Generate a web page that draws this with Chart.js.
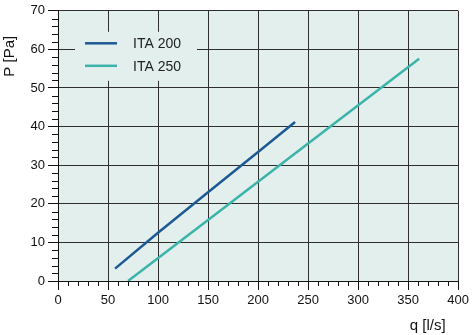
<!DOCTYPE html>
<html>
<head>
<meta charset="utf-8">
<script src="https://cdn.jsdelivr.net/npm/chart.js@4"></script>
<style>
  html, body { margin: 0; padding: 0; background: #fff; }
  #wrap { width: 472px; height: 335px; }
</style>
</head>
<body>
<div id="wrap"><canvas id="pressureChart" width="472" height="335"></canvas></div>
<script>
// values
const seriesNames = ['ITA 200', 'ITA 250'];
const ita200Flow = [57, 100, 150, 200, 237];
const ita200Pressure = [3.2, 12.5, 23.0, 33.4, 41.2];
const ita250Flow = [70, 150, 250, 361];
const ita250Pressure = [0, 15.8, 35.6, 57.6];

const xRange = [0, 400];
const xMajorStep = 50;
const xMinorStep = 10;
const yRange = [0, 70];
const yMajorStep = 10;
const yMinorStep = 2;

const seriesColors = ['#1d5a95', '#3cb4a9'];
const plotBg = '#e2efed';
const gridColor = '#2e2e2e';
const textColor = '#111';

Chart.defaults.font.family = '"Liberation Sans", Arial, Helvetica, sans-serif';
Chart.defaults.color = textColor;

function toPoints(xs, ys) {
    return xs.map((x, i) => ({ x: x, y: ys[i] }));
}

// light fill behind the plot area
const plotBackground = {
    id: 'plotBackground',
    beforeDraw(chart) {
        const { ctx, chartArea: a } = chart;
        ctx.save();
        ctx.fillStyle = plotBg;
        ctx.fillRect(a.left, a.top, a.right - a.left, a.bottom - a.top);
        ctx.restore();
    }
};

// short ticks between the labelled ones
const minorTicks = {
    id: 'minorTicks',
    afterDraw(chart) {
        const { ctx, chartArea: a } = chart;
        const xs = chart.scales.x;
        const ys = chart.scales.y;
        ctx.save();
        ctx.strokeStyle = textColor;
        ctx.lineWidth = 1;
        ctx.beginPath();
        for (let v = xRange[0]; v <= xRange[1]; v += xMinorStep) {
            if (v % xMajorStep === 0) continue;
            const px = Math.round(xs.getPixelForValue(v)) + 0.5;
            ctx.moveTo(px, a.bottom);
            ctx.lineTo(px, a.bottom + 5);
        }
        for (let v = yRange[0]; v <= yRange[1]; v += yMinorStep) {
            if (v % yMajorStep === 0) continue;
            const py = Math.round(ys.getPixelForValue(v)) + 0.5;
            ctx.moveTo(a.left - 6, py);
            ctx.lineTo(a.left, py);
        }
        ctx.stroke();
        ctx.restore();
    }
};

// legend sits inside the plot, over the grid
const insideLegend = {
    id: 'insideLegend',
    beforeDatasetsDraw(chart) {
        const { ctx, chartArea: a } = chart;
        const boxX = a.left + 17;
        const boxY = a.top + 21;
        ctx.save();
        ctx.fillStyle = plotBg;
        ctx.fillRect(boxX, boxY, 122, 49);
        ctx.font = '14px "Liberation Sans", Arial, sans-serif';
        ctx.textBaseline = 'middle';
        chart.data.datasets.forEach((ds, i) => {
            const y = boxY + 11.5 + i * 22.5;
            ctx.strokeStyle = ds.borderColor;
            ctx.lineWidth = 2.5;
            ctx.beginPath();
            ctx.moveTo(boxX + 10, y);
            ctx.lineTo(boxX + 42, y);
            ctx.stroke();
            ctx.fillStyle = '#222';
            ctx.fillText(ds.label, boxX + 58, y + 1);
        });
        ctx.restore();
    }
};

const ctx = document.getElementById('pressureChart').getContext('2d');
const pressureChart = new Chart(ctx, {
    type: 'scatter',
    data: {
        datasets: [{
            label: seriesNames[0],
            data: toPoints(ita200Flow, ita200Pressure),
            showLine: true,
            borderColor: seriesColors[0],
            borderWidth: 2.5,
            pointRadius: 0,
            tension: 0
        }, {
            label: seriesNames[1],
            data: toPoints(ita250Flow, ita250Pressure),
            showLine: true,
            borderColor: seriesColors[1],
            borderWidth: 2.5,
            pointRadius: 0,
            tension: 0
        }]
    },
    options: {
        responsive: false,
        animation: false,
        devicePixelRatio: 1,
        layout: { padding: { top: 7, right: 12, left: 0, bottom: 0 } },
        plugins: {
            legend: { display: false },
            tooltip: { enabled: false }
        },
        scales: {
            x: {
                type: 'linear',
                min: xRange[0],
                max: xRange[1],
                afterFit: (s) => { s.height = 54; },
                ticks: { stepSize: xMajorStep, padding: 3, font: { size: 13 }, color: textColor, maxRotation: 0 },
                grid: { color: gridColor, lineWidth: 1, tickLength: 9, tickColor: textColor },
                border: { color: textColor, width: 1 },
                title: {
                    display: true,
                    text: 'q [l/s]   ',
                    align: 'end',
                    font: { size: 15 },
                    color: textColor,
                    padding: { top: 0, bottom: 0 }
                }
            },
            y: {
                min: yRange[0],
                max: yRange[1],
                afterFit: (s) => { s.width = 58; },
                ticks: { stepSize: yMajorStep, padding: 3, font: { size: 13 }, color: textColor },
                grid: { color: gridColor, lineWidth: 1, tickLength: 10, tickColor: textColor },
                border: { color: textColor, width: 1 },
                title: {
                    display: true,
                    text: 'P [Pa]      ',
                    align: 'end',
                    font: { size: 15 },
                    color: textColor,
                    padding: { top: 1, bottom: 0 }
                }
            }
        }
    },
    plugins: [plotBackground, minorTicks, insideLegend]
});
</script>
</body>
</html>
